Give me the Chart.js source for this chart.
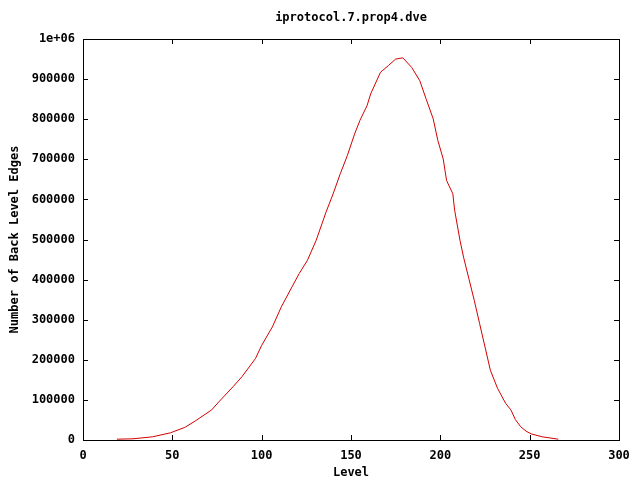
<!DOCTYPE html>
<html>
<head>
<meta charset="utf-8">
<script src="https://cdn.jsdelivr.net/npm/chart.js@4/dist/chart.umd.min.js"></script>
<style>
  html, body { margin: 0; padding: 0; background: #fff; }
  #wrap { width: 640px; height: 480px; }
</style>
</head>
<body>
<div id="wrap"><canvas id="chart" width="640" height="480"></canvas></div>
<script>
const TITLE = "iprotocol.7.prop4.dve";
const X_LABEL = "Level";
const Y_LABEL = "Number of Back Level Edges";

// values
const levels = [19, 28, 39, 49, 57, 63, 72, 76, 84, 89, 96.5, 100, 106, 111, 117, 121, 125.6, 130.5, 136, 140,
	144, 148, 152, 155, 159, 161, 166.5, 171, 175, 179, 184, 188.5, 192, 196, 198.6, 201.6, 203.5, 207, 208, 211,
	213, 216, 219, 222, 225, 228, 232, 236.6, 239.5, 242, 245, 248, 251, 257, 266];
const edges = [2000, 3000, 8000, 18000, 31500, 48000, 75000, 95000, 133000, 158000, 203000, 236000, 282000, 332000, 382000, 415000, 448000, 498000, 568000, 614000,
	664000, 710000, 763000, 797000, 834000, 863000, 917000, 934000, 950000, 953000, 929000, 896000, 851000, 801000, 747000, 701000, 647000, 614000, 573000, 498000,
	456000, 402000, 348000, 290000, 232000, 174000, 129000, 91000, 75000, 51000, 33000, 22000, 15000, 8000, 2000];

const xTicks = [0, 50, 100, 150, 200, 250, 300];
const yTicks = [0, 100000, 200000, 300000, 400000, 500000, 600000, 700000, 800000, 900000, 1000000];

const FONT = { family: "'DejaVu Sans Mono', monospace", size: 12, weight: 'bold' };

// gnuplot style box with inward ticks on all four sides
const frame = {
	id: 'frame',
	afterDraw(chart) {
		const ctx = chart.ctx;
		const a = chart.chartArea;
		const xs = chart.scales.x, ys = chart.scales.y;
		const len = 5;
		ctx.save();
		ctx.strokeStyle = '#000';
		ctx.lineWidth = 1;
		ctx.beginPath();
		xTicks.forEach(v => {
			const px = Math.round(xs.getPixelForValue(v)) + 0.5;
			ctx.moveTo(px, a.bottom); ctx.lineTo(px, a.bottom - len);
			ctx.moveTo(px, a.top); ctx.lineTo(px, a.top + len);
		});
		yTicks.forEach(v => {
			const py = Math.round(ys.getPixelForValue(v)) + 0.5;
			ctx.moveTo(a.left, py); ctx.lineTo(a.left + len, py);
			ctx.moveTo(a.right, py); ctx.lineTo(a.right - len, py);
		});
		ctx.stroke();
		ctx.strokeRect(Math.round(a.left) + 0.5, Math.round(a.top) + 0.5,
			Math.round(a.right - a.left), Math.round(a.bottom - a.top));
		ctx.restore();
	}
};

const points = levels.map((l, i) => ({ x: l, y: edges[i] }));

new Chart(document.getElementById('chart').getContext('2d'), {
	type: 'line',
	data: {
		datasets: [{
			data: points,
			borderColor: 'rgb(210, 0, 0)',
			borderWidth: 1,
			pointRadius: 0,
			tension: 0,
			fill: false
		}]
	},
	options: {
		responsive: false,
		animation: false,
		layout: { padding: { left: 0, right: 21, top: 0, bottom: 0 } },
		plugins: {
			legend: { display: false },
			tooltip: { enabled: false },
			title: {
				display: true,
				text: TITLE,
				color: '#000',
				font: FONT,
				fullSize: false,
				padding: { top: 11, bottom: 13.6 }
			}
		},
		scales: {
			x: {
				type: 'linear',
				min: 0,
				max: 300,
				afterBuildTicks: s => { s.ticks = xTicks.map(v => ({ value: v })); },
				afterFit: s => { s.height = 40; },
				grid: { display: false, drawTicks: false },
				border: { display: false },
				ticks: { color: '#000', font: FONT, padding: 9, maxRotation: 0 },
				title: { display: true, text: X_LABEL, color: '#000', font: FONT, padding: 0 }
			},
			y: {
				min: 0,
				max: 1000000,
				afterBuildTicks: s => { s.ticks = yTicks.map(v => ({ value: v })); },
				afterFit: s => { s.width = 83; },
				grid: { display: false, drawTicks: false },
				border: { display: false },
				ticks: {
					color: '#000',
					font: FONT,
					padding: 8,
					callback: v => v === 1000000 ? '1e+06' : String(v)
				},
				title: { display: true, text: Y_LABEL, color: '#000', font: FONT, padding: { top: 8, bottom: 0 } }
			}
		}
	},
	plugins: [frame]
});
</script>
</body>
</html>
